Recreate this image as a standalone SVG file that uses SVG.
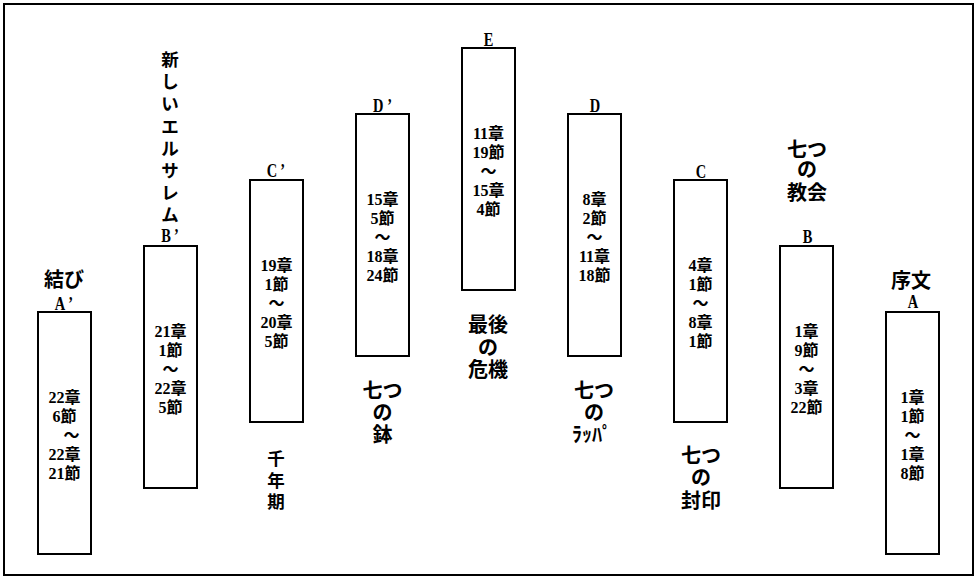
<svg xmlns="http://www.w3.org/2000/svg" width="978" height="581" viewBox="0 0 978 581">
<style>
.frame{fill:#fff;stroke:#000;stroke-width:2}
.box{fill:#fff;stroke:#000;stroke-width:2}
text{font-family:"Liberation Serif","Noto Sans CJK JP",serif;font-weight:bold;fill:#000;text-anchor:middle}
.in{font-size:16px}
.let{font-size:18.5px}
.cap{font-size:20px}
.vert{font-size:17.5px}
</style>
<rect x="0" y="0" width="978" height="581" fill="#fff"/>
<rect class="frame" x="4" y="4" width="969" height="571"/>
<g id="connectors"/>
<g id="node-A2">
<rect class="box" x="38" y="312" width="53" height="242"/>
<text class="in"><tspan x="64.5" y="402.6">22章</tspan><tspan x="64.5" y="421.6">6節</tspan><tspan x="71.5" y="440.6">～</tspan><tspan x="64.5" y="459.6">22章</tspan><tspan x="64.5" y="478.6">21節</tspan></text>
<text class="let" transform="translate(64,310) scale(0.78,1)">A<tspan dx="4">’</tspan></text>
<text class="cap" x="64" y="287">結び</text>
</g>
<g id="node-B2">
<rect class="box" x="144" y="246" width="53" height="242"/>
<text class="in"><tspan x="170.5" y="336.6">21章</tspan><tspan x="170.5" y="355.6">1節</tspan><tspan x="170.5" y="374.6">～</tspan><tspan x="170.5" y="393.6">22章</tspan><tspan x="170.5" y="412.6">5節</tspan></text>
<text class="let" transform="translate(170,242) scale(0.78,1)">B<tspan dx="4">’</tspan></text>
<text class="vert"><tspan x="170" y="66">新</tspan><tspan x="170" y="88.2">し</tspan><tspan x="170" y="110.4">い</tspan><tspan x="170" y="132.6">エ</tspan><tspan x="170" y="154.8">ル</tspan><tspan x="170" y="177">サ</tspan><tspan x="170" y="199.2">レ</tspan><tspan x="170" y="221">ム</tspan></text>
</g>
<g id="node-C2">
<rect class="box" x="250" y="180" width="53" height="242"/>
<text class="in"><tspan x="276.5" y="270.6">19章</tspan><tspan x="276.5" y="289.6">1節</tspan><tspan x="276.5" y="308.6">～</tspan><tspan x="276.5" y="327.6">20章</tspan><tspan x="276.5" y="346.6">5節</tspan></text>
<text class="let" transform="translate(276,177) scale(0.78,1)">C<tspan dx="4">’</tspan></text>
<text class="vert"><tspan x="276" y="464.5">千</tspan><tspan x="276" y="486.5">年</tspan><tspan x="276" y="508">期</tspan></text>
</g>
<g id="node-D2">
<rect class="box" x="356" y="114" width="53" height="242"/>
<text class="in"><tspan x="382.5" y="204.6">15章</tspan><tspan x="382.5" y="223.6">5節</tspan><tspan x="382.5" y="242.6">～</tspan><tspan x="382.5" y="261.6">18章</tspan><tspan x="382.5" y="280.6">24節</tspan></text>
<text class="let" transform="translate(382.5,112) scale(0.78,1)">D<tspan dx="5">’</tspan></text>
<text class="cap"><tspan x="382.5" y="398">七つ</tspan><tspan x="382.5" y="420">の</tspan><tspan x="382.5" y="442">鉢</tspan></text>
</g>
<g id="node-E">
<rect class="box" x="462" y="48" width="53" height="242"/>
<text class="in"><tspan x="488.5" y="138.6">11章</tspan><tspan x="488.5" y="157.6">19節</tspan><tspan x="488.5" y="176.6">～</tspan><tspan x="488.5" y="195.6">15章</tspan><tspan x="488.5" y="214.6">4節</tspan></text>
<text class="let" transform="translate(488.5,45.5) scale(0.78,1)">E</text>
<text class="cap"><tspan x="488" y="332">最後</tspan><tspan x="488" y="354.5">の</tspan><tspan x="488" y="376.5">危機</tspan></text>
</g>
<g id="node-D">
<rect class="box" x="568" y="114" width="53" height="242"/>
<text class="in"><tspan x="594.5" y="204.6">8章</tspan><tspan x="594.5" y="223.6">2節</tspan><tspan x="594.5" y="242.6">～</tspan><tspan x="594.5" y="261.6">11章</tspan><tspan x="594.5" y="280.6">18節</tspan></text>
<text class="let" transform="translate(595,112) scale(0.78,1)">D</text>
<text class="cap"><tspan x="594" y="398">七つ</tspan><tspan x="594" y="420">の</tspan><tspan x="592" y="442">ﾗｯﾊﾟ</tspan></text>
</g>
<g id="node-C">
<rect class="box" x="674" y="180" width="53" height="242"/>
<text class="in"><tspan x="700.5" y="270.6">4章</tspan><tspan x="700.5" y="289.6">1節</tspan><tspan x="700.5" y="308.6">～</tspan><tspan x="700.5" y="327.6">8章</tspan><tspan x="700.5" y="346.6">1節</tspan></text>
<text class="let" transform="translate(701,178) scale(0.78,1)">C</text>
<text class="cap"><tspan x="701" y="463">七つ</tspan><tspan x="701" y="485">の</tspan><tspan x="701" y="507.5">封印</tspan></text>
</g>
<g id="node-B">
<rect class="box" x="780" y="246" width="53" height="242"/>
<text class="in"><tspan x="806.5" y="336.6">1章</tspan><tspan x="806.5" y="355.6">9節</tspan><tspan x="806.5" y="374.6">～</tspan><tspan x="806.5" y="393.6">3章</tspan><tspan x="806.5" y="412.6">22節</tspan></text>
<text class="let" transform="translate(807.5,243) scale(0.78,1)">B</text>
<text class="cap"><tspan x="807" y="156.5">七つ</tspan><tspan x="807" y="177">の</tspan><tspan x="807" y="199.5">教会</tspan></text>
</g>
<g id="node-A">
<rect class="box" x="886" y="312" width="53" height="242"/>
<text class="in"><tspan x="912.5" y="402.6">1章</tspan><tspan x="912.5" y="421.6">1節</tspan><tspan x="912.5" y="440.6">～</tspan><tspan x="912.5" y="459.6">1章</tspan><tspan x="912.5" y="478.6">8節</tspan></text>
<text class="let" transform="translate(913,308) scale(0.78,1)">A</text>
<text class="cap" x="911" y="287.5">序文</text>
</g>
</svg>
